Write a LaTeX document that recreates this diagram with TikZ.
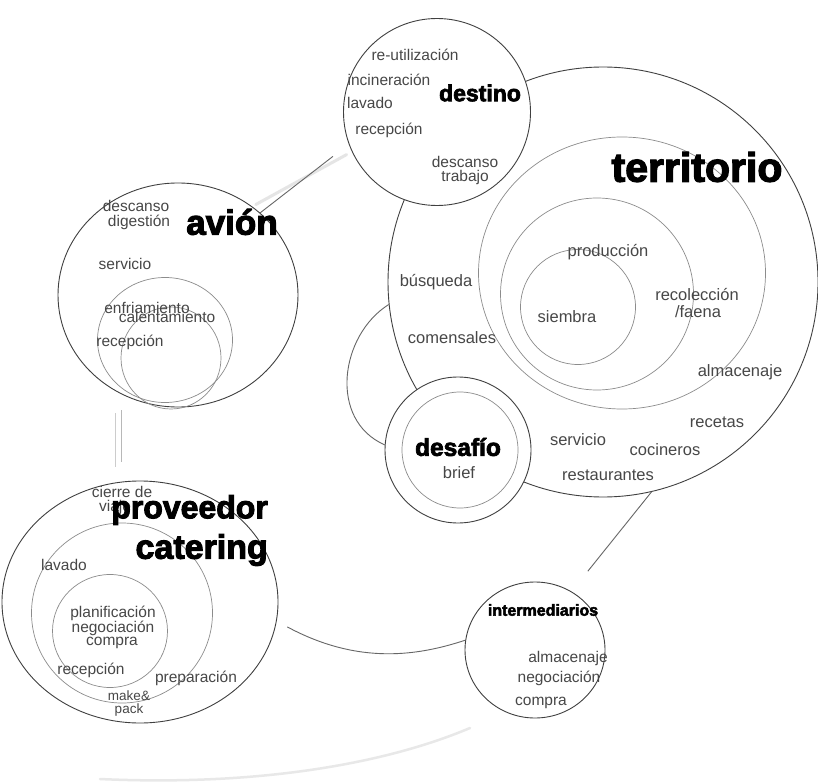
\documentclass[tikz,border=0pt]{standalone}
\usepackage{fontspec}
\setmainfont{Liberation Sans}
\newfontfamily\heavy{Liberation Sans Bold}[FakeBold=3]
\usetikzlibrary{shapes.geometric,calc}

\begin{document}
\begin{tikzpicture}[x=1pt,y=-1pt,
  ring/.style={ellipse, draw=black!75, line width=0.9pt, inner sep=0pt, fill=white},
  subring/.style={ellipse, draw=black!45, line width=0.7pt, inner sep=0pt},
  lbl/.style={text=black!72, inner sep=0pt, font=\fontsize{15.5}{15.5}\selectfont},
  smalllbl/.style={lbl, font=\fontsize{13.5}{13.5}\selectfont},
  biglbl/.style={lbl, font=\fontsize{16.5}{16.5}\selectfont},
  title/.style={text=black, inner sep=0pt},
  link/.style={draw=black!60, line width=0.9pt},
  faint/.style={draw=black!9, line width=2.5pt, line cap=round}]

\useasboundingbox (0,0) rectangle (818,783);
\fill[white] (0,0) rectangle (818,783);

% faint outer trace
\draw[faint] (100,779) .. controls (250,786) and (380,766) .. (470,728);

% ---------------- territorio ----------------
\node[ring, minimum width=430pt, minimum height=430pt] (terr) at (603,282) {};
\node[subring, minimum width=287pt, minimum height=272pt] (terrB) at (622,273) {};
\node[subring, minimum width=193pt, minimum height=192pt] (terrC) at (597,294) {};
\node[subring, minimum width=115pt, minimum height=115pt] (terrD) at (578,307) {};

% ---------------- destino ----------------
\node[ring, minimum width=187pt, minimum height=187pt] (destino) at (437,112) {};

% ---------------- desafío ----------------
\node[ring, minimum width=146pt, minimum height=146pt] (desafio) at (458,450) {};
\node[subring, minimum width=116pt, minimum height=116pt] (desafioB) at (460,450) {};

% ---------------- avión ----------------
\node[ring, minimum width=240pt, minimum height=224pt] (avion) at (178,295) {};
\node[subring, minimum width=135pt, minimum height=125pt] (avionB) at (165,340) {};
\node[subring, minimum width=100pt, minimum height=102pt] (avionC) at (171,358) {};

% ---------------- proveedor catering ----------------
\node[ring, minimum width=276pt, minimum height=242pt] (prov) at (140,602) {};
\node[subring, minimum width=181pt, minimum height=180pt] (provB) at (122,613) {};
\node[subring, minimum width=115pt, minimum height=113pt] (provC) at (110,631) {};

% ---------------- intermediarios ----------------
\node[ring, minimum width=140pt, minimum height=136pt] (inter) at (535,650) {};

% ---------------- connectors ----------------
\draw[faint, line width=3pt, draw=black!10, shorten <=4pt, shorten >=6pt] (avion.50) -- (destino.205);
\draw[link, shorten >=20pt] (avion.45) -- (destino.200);
\coordinate (apA) at (115,413);
\coordinate (apB) at (115,467);
\coordinate (apC) at (121,410);
\coordinate (apD) at (121,462);
\draw[draw=black!20, line width=1pt] (apA) -- (apB);
\draw[draw=black!28, line width=1pt] (apC) -- (apD);
\draw[link, shorten <=12pt] (prov.-8) .. controls (360,666) and (420,655) .. (inter.172);
\draw[link, shorten <=26pt] (inter.58) -- (terr.-77);
\draw[link] (terr.186) .. controls (340,335) and (328,420) .. (desafio.176);

% ---------------- labels: destino ----------------
\node[lbl] (d1) at (415,55) {re-utilización};
\node[lbl] (d2) at (389,80) {incineración};
\node[lbl] (d3) at (370,103) {lavado};
\node[lbl] (d4) at (389,130) {recepción};
\node[lbl] (d5) at (465,162) {descanso};
\node[lbl] (d6) at (465,177) {trabajo};
\node[title, font=\heavy\fontsize{23}{23}\selectfont] (tDestino) at (480,93) {destino};

% ---------------- labels: avión ----------------
\node[lbl] (a1) at (136,206) {descanso};
\node[lbl] (a2) at (139,222) {digestión};
\node[lbl] (a3) at (125,264) {servicio};
\node[lbl] (a4) at (147,308) {enfriamiento};
\node[lbl] (a5) at (167,317) {calentamiento};
\node[lbl] (a6) at (130,342) {recepción};
\node[title, font=\heavy\fontsize{35}{35}\selectfont] (tAvion) at (232,222) {avión};

% ---------------- labels: territorio ----------------
\node[biglbl] (t1) at (608,252) {producción};
\node[biglbl] (t2) at (436,282) {búsqueda};
\node[biglbl] (t3) at (567,317) {siembra};
\node[biglbl] (t4) at (697,295) {recolección};
\node[biglbl] (t5) at (698,312) {/faena};
\node[biglbl] (t6) at (452,338) {comensales};
\node[biglbl] (t7) at (740,372) {almacenaje};
\node[biglbl] (t8) at (717,422) {recetas};
\node[biglbl] (t9) at (578,440) {servicio};
\node[biglbl] (t10) at (665,450) {cocineros};
\node[biglbl] (t11) at (608,475) {restaurantes};
\node[title, font=\heavy\fontsize{41}{41}\selectfont] (tTerr) at (697,167) {territorio};

% ---------------- labels: desafío ----------------
\node[title, font=\heavy\fontsize{24.5}{24.5}\selectfont] (tDesafio) at (458,447) {desafío};
\node[biglbl] (b1) at (459,473) {brief};

% ---------------- labels: proveedor catering ----------------
\node[lbl] (p1) at (122,492) {cierre de};
\node[lbl] (p2) at (115,507) {viaje};
\node[lbl] (p3) at (64,565) {lavado};
\node[lbl] (p4) at (113,613) {planificación};
\node[lbl] (p5) at (113,628) {negociación};
\node[lbl] (p6) at (112,643) {compra};
\node[lbl] (p7) at (91,670) {recepción};
\node[lbl] (p8) at (196,678) {preparación};
\node[smalllbl] (p9) at (129,696) {make\&};
\node[smalllbl] (p10) at (129,710) {pack};
\node[title, anchor=east, font=\heavy\fontsize{32}{32}\selectfont] (tProv) at (268,510) {proveedor};
\node[title, anchor=east, font=\heavy\fontsize{34}{34}\selectfont] (tCat) at (268,550) {catering};

% ---------------- labels: intermediarios ----------------
\node[title, font=\heavy\fontsize{16}{16}\selectfont] (tInter) at (543,610) {intermediarios};
\node[lbl] (i1) at (568,658) {almacenaje};
\node[lbl] (i2) at (559,678) {negociación};
\node[lbl] (i3) at (541,703) {compra};

\end{tikzpicture}
\end{document}
